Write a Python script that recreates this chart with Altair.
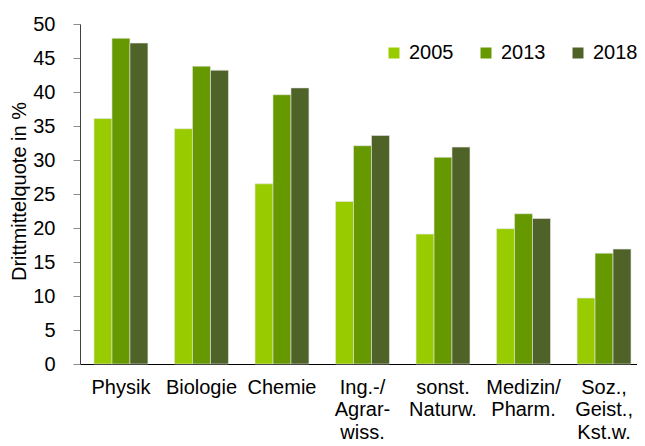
import altair as alt
import pandas as pd

categories = ["Physik", "Biologie", "Chemie", "Ing.-/\nAgrar-\nwiss.", "sonst.\nNaturw.",
              "Medizin/\nPharm.", "Soz.,\nGeist.,\nKst.w."]
years = ["2005", "2013", "2018"]
v2005 = [36.1, 34.6, 26.5, 23.9, 19.1, 19.9, 9.7]
v2013 = [47.9, 43.8, 39.6, 32.1, 30.4, 22.1, 16.3]
v2018 = [47.2, 43.2, 40.6, 33.6, 31.9, 21.4, 16.9]
colors = ["#99cc00", "#669900", "#4f6228"]

rows = []
for yr, vals in zip(years, [v2005, v2013, v2018]):
    for c, v in zip(categories, vals):
        rows.append({"Fach": c, "Jahr": yr, "Wert": v})
df = pd.DataFrame(rows)

FONT = "Liberation Sans"

chart = alt.Chart(df).mark_bar(stroke="#e6e6e6", strokeWidth=0.6).encode(
    x=alt.X("Fach:N", sort=categories, title=None,
            scale=alt.Scale(paddingInner=0.33, paddingOuter=0.124, align=0.7),
            axis=alt.Axis(labelAngle=0, ticks=False, labelPadding=13,
                          labelExpr="split(datum.label, '\\n')",
                          labelLineHeight=22.5, labelFontSize=20, labelColor="black",
                          labelFont=FONT, domainColor="black", domainWidth=1.2,
                          labelBaseline="top")),
    xOffset=alt.XOffset("Jahr:N", sort=years),
    y=alt.Y("Wert:Q", title="Drittmittelquote in %",
            scale=alt.Scale(domain=[0, 50], nice=False),
            axis=alt.Axis(values=list(range(0, 55, 5)), grid=False, tickSize=7,
                          tickColor="#8c8c8c", domainColor="#404040",
                          labelFontSize=20, labelFont=FONT, labelColor="black",
                          labelPadding=18, titleFont=FONT, titleFontSize=20,
                          titleFontWeight="normal", titleColor="black",
                          titleX=-61, titleY=167, titleAngle=-90,
                          titleAlign="center", titleBaseline="middle")),
    color=alt.Color("Jahr:N", sort=years,
                    scale=alt.Scale(domain=years, range=colors),
                    legend=alt.Legend(title=None, orient="none", legendX=304, legendY=19,
                                      direction="horizontal", symbolType="square",
                                      symbolSize=121, symbolStrokeWidth=0,
                                      labelFontSize=20, labelFont=FONT,
                                      labelColor="black", columnPadding=22,
                                      labelOffset=5)),
).properties(
    width=557, height=340,
    autosize=alt.AutoSizeParams(type="none"),
    padding={"left": 72, "top": 16, "right": 0, "bottom": 80},
).configure_view(stroke=None)

chart.save("out.html", embed_options={"renderer": "svg", "actions": False})
